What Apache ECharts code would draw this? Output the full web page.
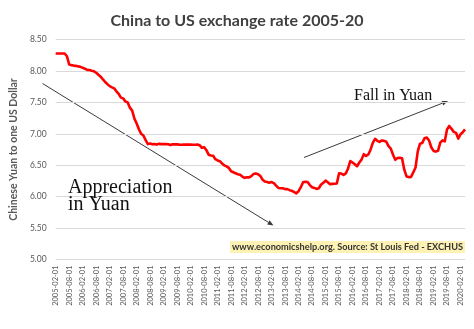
<!DOCTYPE html>
<html>
<head>
<meta charset="utf-8">
<script src="https://cdn.jsdelivr.net/npm/echarts@6/dist/echarts.min.js"></script>
<style>
  html, body { margin: 0; padding: 0; background: #ffffff; }
  #chart { width: 474px; height: 329px; }
</style>
</head>
<body>
<div id="chart"></div>
<script>
// Monthly CNY per USD (EXCHUS), first month 2005-02, last month 2020-04
const firstYear = 2005;
const firstMonth = 2;
const yuanPerDollar = [
  8.2765, 8.2765, 8.2765, 8.2765, 8.2765, 8.2330, 8.1019, 8.0920, 8.0849, 8.0810, 8.0720,          // 2005
  8.0654, 8.0490, 8.0362, 8.0152, 8.0146, 8.0025, 7.9951, 7.9714, 7.9390, 7.9090, 7.8645, 7.8237,  // 2006
  7.7898, 7.7583, 7.7391, 7.7230, 7.6761, 7.6351, 7.5755, 7.5633, 7.5132, 7.4997, 7.4159, 7.3682,  // 2007
  7.2405, 7.1644, 7.0722, 6.9997, 6.9725, 6.8993, 6.8355, 6.8462, 6.8323, 6.8358, 6.8284, 6.8399,  // 2008
  6.8360, 6.8363, 6.8358, 6.8326, 6.8213, 6.8328, 6.8320, 6.8321, 6.8276, 6.8267, 6.8271, 6.8272,  // 2009
  6.8269, 6.8285, 6.8262, 6.8256, 6.8275, 6.8184, 6.7762, 6.7873, 6.7396, 6.6675, 6.6538, 6.6497,  // 2010
  6.5964, 6.5761, 6.5645, 6.5267, 6.4973, 6.4806, 6.4568, 6.4040, 6.3885, 6.3710, 6.3564, 6.3482,  // 2011
  6.3198, 6.2993, 6.3080, 6.3065, 6.3270, 6.3616, 6.3694, 6.3565, 6.3289, 6.2699, 6.2415, 6.2328,  // 2012
  6.2208, 6.2317, 6.2140, 6.1746, 6.1383, 6.1325, 6.1341, 6.1192, 6.1198, 6.1035, 6.0929, 6.0738,  // 2013
  6.0509, 6.0875, 6.1499, 6.2290, 6.2367, 6.2322, 6.1840, 6.1496, 6.1394, 6.1228, 6.1339, 6.1936,  // 2014
  6.2181, 6.2563, 6.2295, 6.1987, 6.2037, 6.2052, 6.2097, 6.3703, 6.3675, 6.3453, 6.3689, 6.4490,  // 2015
  6.5661, 6.5427, 6.5141, 6.4837, 6.5431, 6.5890, 6.6764, 6.6466, 6.6703, 6.7466, 6.8560, 6.9198,  // 2016
  6.8883, 6.8716, 6.8942, 6.8877, 6.8729, 6.8026, 6.7633, 6.6657, 6.5862, 6.6134, 6.6187, 6.6116,  // 2017
  6.4297, 6.3217, 6.3111, 6.3149, 6.3848, 6.4642, 6.7193, 6.8427, 6.8547, 6.9300, 6.9409, 6.8943,  // 2018
  6.7863, 6.7273, 6.7165, 6.7295, 6.8583, 6.8953, 6.8793, 7.0692, 7.1243, 7.0789, 7.0305, 7.0152,  // 2019
  6.9234, 6.9928, 7.0240, 7.0703                                                                   // 2020
];

// Category labels: one per month, "YYYY-MM-01"
const months = [];
for (let i = 0; i < yuanPerDollar.length; i++) {
  const m = firstMonth - 1 + i;
  const y = firstYear + Math.floor(m / 12);
  const mm = (m % 12) + 1;
  months.push(y + '-' + (mm < 10 ? '0' : '') + mm + '-01');
}

const yMin = 5.0, yMax = 8.5, yStep = 0.5;
const titleText = 'China to US exchange rate 2005-20';
const yAxisTitle = 'Chinese Yuan to one US Dollar';
const noteAppreciation = 'Appreciation\nin Yuan';
const noteFall = 'Fall in Yuan';
const sourceText = 'www.economicshelp.org. Source: St Louis Fed - EXCHUS';

// Straight annotation arrow with a small filled head at (x2, y2)
function arrow(x1, y1, x2, y2) {
  const dx = x2 - x1, dy = y2 - y1;
  const len = Math.sqrt(dx * dx + dy * dy);
  const ux = dx / len, uy = dy / len;
  const hl = 6, hw = 2.4;
  const bx = x2 - ux * hl, by = y2 - uy * hl;
  return [
    { type: 'line', shape: { x1: x1, y1: y1, x2: bx, y2: by },
      style: { stroke: '#3a3a3a', lineWidth: 1 } },
    { type: 'polygon',
      shape: { points: [[x2, y2], [bx - uy * hw, by + ux * hw], [bx + uy * hw, by - ux * hw]] },
      style: { fill: '#3a3a3a' } }
  ];
}

const chart = echarts.init(document.getElementById('chart'), null, { renderer: 'canvas' });

chart.setOption({
  animation: false,
  backgroundColor: '#ffffff',
  title: {
    text: titleText,
    left: 'center',
    top: 8,
    textStyle: { fontFamily: 'Lato', fontSize: 16, fontWeight: 'bold', color: '#404040' }
  },
  grid: { left: 52, right: 9, top: 39.5, bottom: 69.5, containLabel: false },
  xAxis: {
    type: 'category',
    data: months,
    boundaryGap: false,
    axisLine: { show: false },
    axisTick: { show: false },
    axisLabel: {
      interval: 5,
      rotate: 90,
      margin: 6,
      fontFamily: 'Lato',
      fontSize: 7.5,
      color: '#595959'
    },
    splitLine: { show: false }
  },
  yAxis: {
    type: 'value',
    min: yMin,
    max: yMax,
    interval: yStep,
    name: yAxisTitle,
    nameLocation: 'middle',
    nameRotate: 90,
    nameGap: 36,
    nameTextStyle: { fontFamily: 'Lato', fontSize: 10.5, fontWeight: 'bold', color: '#595959' },
    axisLine: { show: false },
    axisTick: { show: false },
    axisLabel: {
      margin: 9,
      fontFamily: 'Lato',
      fontSize: 8.5,
      color: '#595959',
      formatter: function (v) { return v.toFixed(2); }
    },
    splitLine: { lineStyle: { color: '#d9d9d9', width: 1 } }
  },
  series: [{
    type: 'line',
    data: yuanPerDollar,
    showSymbol: false,
    symbol: 'none',
    smooth: false,
    lineStyle: { color: '#ff0000', width: 2.6, join: 'round' },
    z: 3
  }],
  graphic: [
    ...arrow(42.5, 83.5, 273.5, 225.5),
    ...arrow(304, 157.5, 448, 101),
    {
      type: 'text', left: 68, top: 178, z: 10,
      style: { text: noteAppreciation, font: '20px "Liberation Serif"', fill: '#111111', lineHeight: 17 }
    },
    {
      type: 'text', left: 354, top: 88, z: 10,
      style: { text: noteFall, font: '16px "Liberation Serif"', fill: '#111111' }
    },
    {
      type: 'text', right: 9, top: 241, z: 10,
      style: {
        text: sourceText,
        font: 'bold 9.2px Lato',
        fill: '#333333',
        backgroundColor: '#fdf1b3',
        padding: [1.5, 2, 1.5, 2]
      }
    }
  ]
});
</script>
</body>
</html>
